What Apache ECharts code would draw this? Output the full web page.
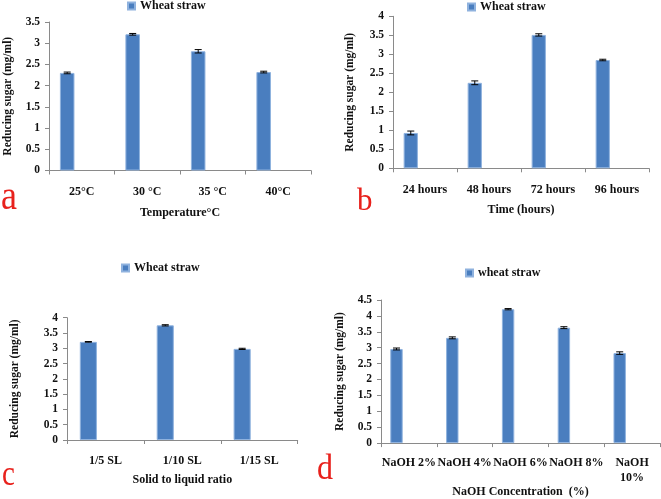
<!DOCTYPE html>
<html><head><meta charset="utf-8">
<script src="https://cdn.jsdelivr.net/npm/echarts@6/dist/echarts.min.js"></script>
<style>html,body{margin:0;padding:0;background:#fff}#c{width:661px;height:499px}</style>
</head><body><div id="c"></div>
<script>
const categoriesA = ['25°C', '30 °C', '35 °C', '40°C'];
const valuesA = [2.30, 3.21, 2.81, 2.32];
const errorsA = [0.02, 0.02, 0.04, 0.02];
const categoriesB = ['24 hours', '48 hours', '72 hours', '96 hours'];
const valuesB = [0.93, 2.25, 3.51, 2.85];
const errorsB = [0.05, 0.05, 0.03, 0.02];
const categoriesC = ['1/5 SL', '1/10 SL', '1/15 SL'];
const valuesC = [3.21, 3.75, 2.98];
const errorsC = [0.01, 0.02, 0.02];
const categoriesD = ['NaOH 2%', 'NaOH 4%', 'NaOH 6%', 'NaOH 8%', 'NaOH 10%'];
const valuesD = [2.96, 3.31, 4.21, 3.63, 2.83];
const errorsD = [0.03, 0.03, 0.02, 0.03, 0.04];
const seriesNames = ['Wheat straw', 'Wheat straw', 'Wheat straw', 'wheat straw'];
const yMax = [3.5, 4, 4, 4.5];
const xTitles = ['Temperature°C', 'Time (hours)', 'Solid to liquid ratio', 'NaOH Concentration  (%)'];
const yTitle = 'Reducing sugar (mg/ml)';
const panelLetters = ['a', 'b', 'c', 'd'];

const FONT = '"Liberation Serif","Times New Roman",serif';
const cats = [categoriesA, categoriesB, categoriesC, categoriesD];
const vals = [valuesA, valuesB, valuesC, valuesD];
const errs = [errorsA, errorsB, errorsC, errorsD];

const grids = [
  {left: 49, top: 22, width: 262, height: 148.5},
  {left: 393, top: 16.3, width: 256, height: 152},
  {left: 67, top: 317.7, width: 230.7, height: 122.3},
  {left: 381, top: 300, width: 279, height: 144}
];
const labelMargins = [14, 14, 13, 12];
const xNameGaps = [36, 35.5, 34, 41];
const yNameGaps = [35, 37, 46, 35];
const legendPos = [{left: 127, top: 0}, {left: 467, top: 1}, {left: 121, top: 262}, {left: 465, top: 267}];

const axisLineStyle = {color: '#8a8a8a', width: 1};
const txt = {fontFamily: FONT, fontWeight: 'bold', color: '#111'};

const xAxis = [], yAxis = [], series = [], legend = [];
for (let i = 0; i < 4; i++) {
  xAxis.push({
    type: 'category', gridIndex: i, data: cats[i],
    axisLine: {lineStyle: axisLineStyle},
    axisTick: {show: true, length: 4, lineStyle: axisLineStyle},
    axisLabel: Object.assign({fontSize: 12, margin: labelMargins[i], interval: 0,
      formatter: v => v === 'NaOH 10%' ? 'NaOH\n10%' : v, lineHeight: 15}, txt),
    name: xTitles[i], nameLocation: 'middle', nameGap: xNameGaps[i],
    nameTextStyle: Object.assign({fontSize: 12}, txt)
  });
  yAxis.push({
    type: 'value', gridIndex: i, min: 0, max: yMax[i], interval: 0.5,
    splitLine: {show: false},
    axisLine: {show: true, lineStyle: axisLineStyle},
    axisTick: {show: true, length: 4, lineStyle: axisLineStyle},
    axisLabel: Object.assign({fontSize: 11.5, margin: 9}, txt),
    name: yTitle, nameLocation: 'middle', nameGap: yNameGaps[i], nameRotate: 90,
    nameTextStyle: Object.assign({fontSize: 11.5}, txt)
  });
  series.push({
    type: 'bar', name: seriesNames[i], xAxisIndex: i, yAxisIndex: i,
    data: vals[i], barGap: '0%', barCategoryGap: '33.3%',
    itemStyle: {color: '#4a7ebf', borderColor: '#8fb2de', borderWidth: 1}
  });
  series.push({type: 'bar', name: 'empty2_' + i, xAxisIndex: i, yAxisIndex: i,
    data: cats[i].map(() => null), barGap: '0%', barCategoryGap: '33.3%'});
  series.push({type: 'bar', name: 'empty3_' + i, xAxisIndex: i, yAxisIndex: i,
    data: cats[i].map(() => null), barGap: '0%', barCategoryGap: '33.3%'});
  series.push({
    type: 'custom', name: 'err' + i, xAxisIndex: i, yAxisIndex: i,
    data: vals[i].map((v, k) => [k, v, errs[i][k]]),
    encode: {x: 0, y: 1}, z: 5,
    renderItem: function (params, api) {
      const k = api.value(0), v = api.value(1), e = api.value(2);
      const catW = api.size([1, 0])[0];
      const off = -catW / 4.5;
      const t = api.coord([k, v + e]);
      const b = api.coord([k, v - e]);
      const cx = t[0] + off, cap = 3.5;
      const st = {stroke: '#000', lineWidth: 1};
      return {type: 'group', children: [
        {type: 'line', shape: {x1: cx, y1: t[1], x2: cx, y2: b[1]}, style: st},
        {type: 'line', shape: {x1: cx - cap, y1: t[1], x2: cx + cap, y2: t[1]}, style: st},
        {type: 'line', shape: {x1: cx - cap, y1: b[1], x2: cx + cap, y2: b[1]}, style: st}
      ]};
    }
  });
  legend.push(Object.assign({
    data: [seriesNames[i]], padding: 0, itemWidth: 7, itemHeight: 7, icon: 'rect',
    selectedMode: false,
    textStyle: Object.assign({fontSize: 12}, txt)
  }, legendPos[i]));
}

const letterStyle = [
  {x: 1, y: 198, size: 36, sy: 1.15},
  {x: 357, y: 202, size: 31, sy: 1.0},
  {x: 2, y: 475, size: 29, sy: 1.25},
  {x: 317, y: 470, size: 32, sy: 1.1}
];
const graphic = panelLetters.map((l, i) => ({
  type: 'text', x: letterStyle[i].x, y: letterStyle[i].y,
  scaleY: letterStyle[i].sy, silent: true,
  style: {text: l, fill: '#e8211c', fontSize: letterStyle[i].size, fontFamily: FONT,
    fontWeight: 'normal', textAlign: 'left', textVerticalAlign: 'middle', verticalAlign: 'middle'}
}));

const chart = echarts.init(document.getElementById('c'), null, {renderer: 'canvas'});
chart.setOption({
  animation: false, backgroundColor: '#fff',
  grid: grids.map(g => Object.assign({containLabel: false}, g)),
  xAxis, yAxis, series, legend, graphic
});
</script></body></html>
